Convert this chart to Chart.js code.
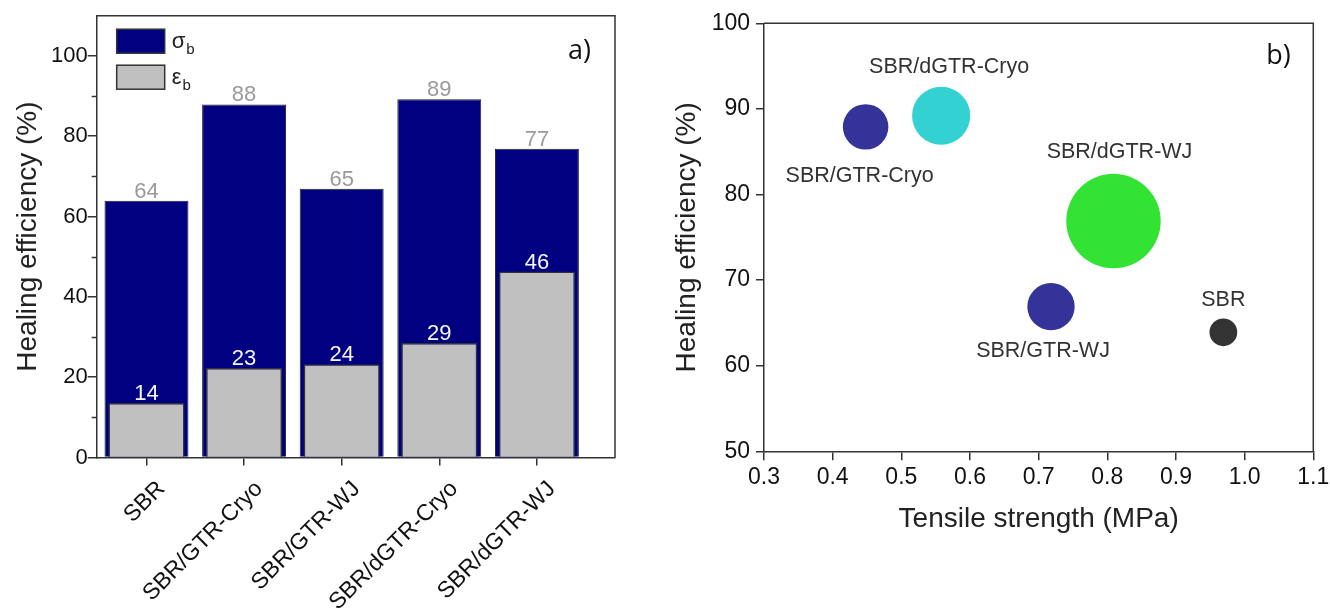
<!DOCTYPE html>
<html><head><meta charset="utf-8">
<script src="https://cdn.jsdelivr.net/npm/chart.js@4.4.0/dist/chart.umd.min.js"></script>
<style>
html,body{margin:0;padding:0;background:#fff;overflow:hidden;}
#wrapA{position:absolute;left:0;top:0;width:650px;height:614px;}
#wrapB{position:absolute;left:650px;top:0;width:680px;height:614px;}
canvas{display:block;}
</style></head><body>
<div id="wrapA"><canvas id="cA" width="650" height="614"></canvas></div>
<div id="wrapB"><canvas id="cB" width="680" height="614"></canvas></div>
<script>
// ---------- data ----------
const categories = ['SBR', 'SBR/GTR-Cryo', 'SBR/GTR-WJ', 'SBR/dGTR-Cryo', 'SBR/dGTR-WJ'];
const sigmaHealing = [63.9, 87.9, 66.9, 89.2, 76.9];      // healing efficiency from tensile strength (%)
const sigmaLabels = ['64', '88', '65', '89', '77'];
const strainHealing = [13.6, 22.3, 23.2, 28.5, 46.3];     // healing efficiency from elongation at break (%)
const strainLabels = ['14', '23', '24', '29', '46'];
const tensileStrength = [0.969, 0.448, 0.718, 0.558, 0.809]; // MPa
const barYTicks = [0, 20, 40, 60, 80, 100];
const barYMinorTicks = [10, 30, 50, 70, 90];
const bubbleXTicks = [0.3, 0.4, 0.5, 0.6, 0.7, 0.8, 0.9, 1.0, 1.1];
const bubbleYTicks = [50, 60, 70, 80, 90, 100];

// ---------- styles ----------
const FONT = "'Liberation Sans', Arial, sans-serif";
const bubbleColors = ['#333333', '#333399', '#333399', '#33d1d1', '#33e333'];
const bubbleLabelOffsets = [[0, -32], [-6, 49], [-8, 44], [8, -49], [6, -69]];
const bubbleRadiusScale = 1.02;

const framePlugin = {
  id: 'frame',
  afterDraw(chart, args, opts) {
    const a = chart.chartArea, ctx = chart.ctx;
    ctx.save();
    ctx.strokeStyle = opts.color || '#333';
    ctx.lineWidth = opts.width || 1.5;
    ctx.beginPath();
    ctx.moveTo(a.left, a.top); ctx.lineTo(a.right, a.top); ctx.lineTo(a.right, a.bottom);
    ctx.stroke();
    if (opts.letter) {
      ctx.fillStyle = '#111';
      ctx.font = "27px 'Open Sans', 'Noto Sans', sans-serif";
      ctx.textAlign = 'left'; ctx.textBaseline = 'middle';
      ctx.fillText(opts.letter, a.right + opts.letterDx, a.top + opts.letterDy);
    }
    ctx.restore();
  }
};

const minorTickPlugin = {
  id: 'minorTicks',
  afterDraw(chart) {
    const s = chart.scales.y, ctx = chart.ctx, a = chart.chartArea;
    ctx.save();
    ctx.strokeStyle = '#333'; ctx.lineWidth = 1.5;
    barYMinorTicks.forEach(v => {
      const y = Math.round(s.getPixelForValue(v)) + 0.5;
      ctx.beginPath(); ctx.moveTo(a.left - 5, y); ctx.lineTo(a.left, y); ctx.stroke();
    });
    ctx.restore();
  }
};

const barLabelPlugin = {
  id: 'barLabels',
  afterDatasetsDraw(chart) {
    const ctx = chart.ctx;
    ctx.save();
    ctx.font = '22px ' + FONT;
    ctx.textAlign = 'center'; ctx.textBaseline = 'alphabetic';
    chart.data.datasets.forEach((ds, i) => {
      const meta = chart.getDatasetMeta(i);
      ctx.fillStyle = ds.labelColor;
      meta.data.forEach((el, j) => ctx.fillText(ds.valueLabels[j], el.x, el.y - 3));
    });
    ctx.restore();
  }
};

const legendPlugin = {
  id: 'customLegend',
  afterDraw(chart) {
    const ctx = chart.ctx, a = chart.chartArea;
    const x0 = a.left + 20, w = 48, h = 24;
    const items = [
      { ds: chart.data.datasets[1], y: a.top + 13.5, sym: 'σ' },
      { ds: chart.data.datasets[0], y: a.top + 49.5, sym: 'ε' }
    ];
    ctx.save();
    items.forEach(it => {
      ctx.fillStyle = it.ds.backgroundColor;
      ctx.fillRect(x0, it.y, w, h);
      ctx.strokeStyle = '#333'; ctx.lineWidth = 1.5;
      ctx.strokeRect(x0, it.y, w, h);
      ctx.fillStyle = '#222';
      ctx.textAlign = 'left'; ctx.textBaseline = 'alphabetic';
      ctx.font = '22px ' + FONT;
      ctx.fillText(it.sym, x0 + w + 7, it.y + 19);
      const sw = ctx.measureText(it.sym).width;
      ctx.font = '15px ' + FONT;
      ctx.fillText('b', x0 + w + 7 + sw + 1, it.y + 25);
    });
    ctx.restore();
  }
};

const bubbleLabelPlugin = {
  id: 'bubbleLabels',
  afterDatasetsDraw(chart) {
    const ctx = chart.ctx;
    const meta = chart.getDatasetMeta(0);
    ctx.save();
    ctx.font = '21.5px ' + FONT;
    ctx.fillStyle = '#333';
    ctx.textAlign = 'center'; ctx.textBaseline = 'middle';
    meta.data.forEach((el, j) => {
      const o = bubbleLabelOffsets[j];
      ctx.fillText(categories[j], el.x + o[0], el.y + o[1]);
    });
    ctx.restore();
  }
};

function fixSize(prop, val) {
  return function (s) {
    s[prop] = val;
    s.paddingTop = 0; s.paddingBottom = 0; s.paddingLeft = 0; s.paddingRight = 0;
  };
}

// ---------- chart a) ----------
new Chart(document.getElementById('cA'), {
  type: 'bar',
  data: {
    datasets: [
      {
        label: 'εb',
        data: categories.map((c, i) => ({ x: i, y: strainHealing[i] })),
        backgroundColor: '#c0c0c0', borderColor: '#333', borderWidth: 1.5,
        barPercentage: 0.78, categoryPercentage: 1, grouped: false,
        valueLabels: strainLabels, labelColor: '#f6f6ff'
      },
      {
        label: 'σb',
        data: categories.map((c, i) => ({ x: i, y: sigmaHealing[i] })),
        backgroundColor: '#000080', borderColor: '#222', borderWidth: 1,
        barPercentage: 0.86, categoryPercentage: 1, grouped: false,
        valueLabels: sigmaLabels, labelColor: '#9a9a9a'
      }
    ]
  },
  options: {
    responsive: false, animation: false, devicePixelRatio: 1, events: [],
    layout: { autoPadding: false, padding: { left: 0, top: 15.7, right: 35, bottom: 0 } },
    plugins: { legend: { display: false }, tooltip: { enabled: false },
      frame: { color: '#333', width: 1.5, letter: 'a)', letterDx: -47, letterDy: 36 } },
    scales: {
      x: {
        type: 'linear', min: -0.51, max: 4.8, offset: false,
        afterBuildTicks: s => { s.ticks = categories.map((c, i) => ({ value: i })); },
        afterFit: fixSize('height', 156.5),
        grid: { display: true, drawOnChartArea: false, drawTicks: true, tickLength: 8, color: '#333', lineWidth: 1.5, offset: false },
        border: { display: true, color: '#333', width: 1.5 },
        ticks: { minRotation: 45, maxRotation: 45, autoSkip: false, padding: 10, labelOffset: 15,
          color: '#111', font: { family: FONT, size: 23 },
          callback: v => categories[v] }
      },
      y: {
        min: 0, max: 110,
        afterBuildTicks: s => { s.ticks = barYTicks.map(v => ({ value: v })); },
        afterFit: fixSize('width', 96.7),
        grid: { display: true, drawOnChartArea: false, drawTicks: true, tickLength: 9, color: '#333', lineWidth: 1.5 },
        border: { display: true, color: '#333', width: 1.5 },
        ticks: { padding: 0, color: '#111', font: { family: FONT, size: 22 } },
        title: { display: true, text: 'Healing efficiency (%)', color: '#222',
          font: { family: FONT, size: 28 }, padding: { top: 11, bottom: 0 } }
      }
    }
  },
  plugins: [framePlugin, minorTickPlugin, barLabelPlugin, legendPlugin]
});

// ---------- chart b) ----------
new Chart(document.getElementById('cB'), {
  type: 'bubble',
  data: {
    datasets: [{
      label: 'samples',
      data: categories.map((c, i) => ({ x: tensileStrength[i], y: sigmaHealing[i], r: strainHealing[i] * bubbleRadiusScale })),
      backgroundColor: bubbleColors, borderWidth: 0, hoverRadius: 0
    }]
  },
  options: {
    responsive: false, animation: false, devicePixelRatio: 1, events: [],
    layout: { autoPadding: false, padding: { left: 0, top: 23.3, right: 16.7, bottom: 0 } },
    plugins: { legend: { display: false }, tooltip: { enabled: false },
      frame: { color: '#333', width: 1.5, letter: 'b)', letterDx: -47, letterDy: 33.4 } },
    scales: {
      x: {
        type: 'linear', min: 0.3, max: 1.1,
        afterBuildTicks: s => { s.ticks = bubbleXTicks.map(v => ({ value: v })); },
        afterFit: fixSize('height', 162.7),
        grid: { display: true, drawOnChartArea: false, drawTicks: true, tickLength: 9, color: '#333', lineWidth: 1.5 },
        border: { display: true, color: '#333', width: 1.5 },
        ticks: { padding: 4, color: '#111', font: { family: FONT, size: 23 }, callback: v => v.toFixed(1) },
        title: { display: true, text: 'Tensile strength (MPa)', color: '#222',
          font: { family: FONT, size: 28 }, padding: { top: 0, bottom: 78 } }
      },
      y: {
        type: 'linear', min: 50, max: 100,
        afterBuildTicks: s => { s.ticks = bubbleYTicks.map(v => ({ value: v })); },
        afterFit: fixSize('width', 114),
        grid: { display: true, drawOnChartArea: false, drawTicks: true, tickLength: 8, color: '#333', lineWidth: 1.5 },
        border: { display: true, color: '#333', width: 1.5 },
        ticks: { padding: 6, color: '#111', font: { family: FONT, size: 23 } },
        title: { display: true, text: 'Healing efficiency (%)', color: '#222',
          font: { family: FONT, size: 28 }, padding: { top: 20, bottom: 0 } }
      }
    }
  },
  plugins: [framePlugin, bubbleLabelPlugin]
});
</script>
</body></html>
